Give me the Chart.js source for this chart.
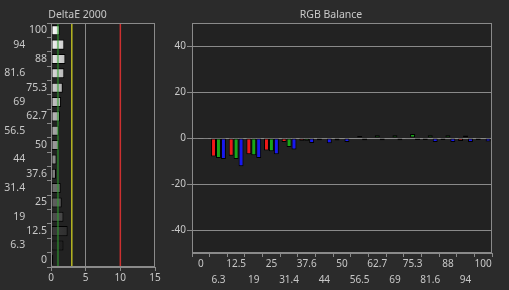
<!DOCTYPE html>
<html>
<head>
<meta charset="utf-8">
<script src="https://cdn.jsdelivr.net/npm/chart.js@4.4.0/dist/chart.umd.min.js"></script>
<style>
  html, body { margin: 0; padding: 0; background: #2b2b2b; width: 509px; height: 290px; overflow: hidden; }
  #deltaBox { position: absolute; left: 0; top: 0; width: 170px; height: 290px; }
  #rgbBox { position: absolute; left: 170px; top: 0; width: 339px; height: 290px; }
</style>
</head>
<body>
<div id="deltaBox"><canvas id="deltaChart"></canvas></div>
<div id="rgbBox"><canvas id="rgbChart"></canvas></div>
<script>
// stimulus levels, 0 -> 100
const stimulusLabels = ['0', '6.3', '12.5', '19', '25', '31.4', '37.6', '44', '50', '56.5', '62.7', '69', '75.3', '81.6', '88', '94', '100'];

// DeltaE 2000 per level
const deltaE = [0.33, 1.8, 2.4, 1.8, 1.55, 1.4, 0.72, 0.8, 1.15, 1.15, 1.3, 1.45, 1.7, 1.92, 2.08, 1.92, 1.25];
const deltaTicks = [0, 5, 10, 15];
const deltaLimits = [1, 3, 10];

// RGB balance offsets per level
const redOffset = [-0.3, -8.0, -7.7, -7.0, -5.4, -1.7, -1.2, -1.0, -1.1, 0, 0, 0, -0.3, -0.8, -0.8, -1.3, -0.8];
const greenOffset = [0, -8.7, -9.1, -7.5, -5.7, -3.9, -1.2, -0.3, 0.4, 0.9, 1.2, 1.2, 1.8, 1.2, 1.2, 1.1, 0.3];
const blueOffset = [-0.3, -9.1, -12.3, -8.7, -7.0, -5.0, -2.2, -2.3, -1.7, -1.0, -1.0, -1.0, -0.8, -1.7, -1.7, -1.7, -1.5];
const rgbTicks = [-40, -20, 0, 20, 40];

const gridGray = '#8a8a8a';
const textGray = '#c8c8c8';
const plotBg = '#222222';

Chart.defaults.font.family = "'Noto Sans', sans-serif";
Chart.defaults.font.size = 10;
Chart.defaults.color = textGray;

// dark plot area + frame round it
const plotFrame = {
    id: 'plotFrame',
    beforeDraw(chart) {
        const a = chart.chartArea, ctx = chart.ctx;
        ctx.save();
        ctx.fillStyle = plotBg;
        ctx.fillRect(a.left, a.top, a.right - a.left, a.bottom - a.top);
        ctx.restore();
    },
    afterDraw(chart) {
        const a = chart.chartArea, ctx = chart.ctx;
        ctx.save();
        ctx.strokeStyle = gridGray;
        ctx.lineWidth = 1;
        ctx.strokeRect(Math.round(a.left) + 0.5, Math.round(a.top) + 0.5, Math.round(a.right - a.left) - 1, Math.round(a.bottom - a.top) - 1);
        ctx.restore();
    }
};

// green / yellow / red limit lines on the deltaE chart
const limitLines = {
    id: 'limitLines',
    afterDatasetsDraw(chart) {
        const a = chart.chartArea, ctx = chart.ctx, x = chart.scales.x;
        const styles = [['rgba(48,160,48,0.55)', 2], ['#b8b822', 1.5], ['#cc3030', 1.5]];
        ctx.save();
        deltaLimits.forEach((v, i) => {
            const px = x.getPixelForValue(v);
            ctx.strokeStyle = styles[i][0];
            ctx.lineWidth = styles[i][1];
            ctx.beginPath();
            ctx.moveTo(px, a.top);
            ctx.lineTo(px, a.bottom);
            ctx.stroke();
        });
        ctx.restore();
    }
};

function levelFill(context) {
    const chart = context.chart;
    const level = parseFloat(stimulusLabels[context.dataIndex]) / 100;
    const v = Math.round(255 * Math.pow(level, 0.7));
    const dark = Math.round(v * 0.8);
    if (!chart.chartArea) return `rgb(${v},${v},${v})`;
    const left = chart.chartArea.left;
    const g = chart.ctx.createLinearGradient(left, 0, left + 16, 0);
    g.addColorStop(0, `rgb(${v},${v},${v})`);
    g.addColorStop(1, `rgb(${dark},${dark},${dark})`);
    return g;
}

new Chart(document.getElementById('deltaChart'), {
    type: 'bar',
    data: {
        labels: stimulusLabels,
        datasets: [{
            data: deltaE,
            backgroundColor: levelFill,
            borderColor: '#000',
            borderWidth: 1,
            borderSkipped: false,
            barPercentage: 0.7,
            categoryPercentage: 1
        }]
    },
    options: {
        indexAxis: 'y',
        responsive: true,
        maintainAspectRatio: false,
        animation: false,
        devicePixelRatio: 1,
        layout: { padding: { right: 15 } },
        plugins: {
            legend: { display: false },
            tooltip: { enabled: false },
            title: { display: true, text: 'DeltaE 2000', color: textGray, font: { size: 10.5, weight: 'normal' }, padding: { top: 9, bottom: 1.5 } }
        },
        scales: {
            x: {
                min: 0, max: 15,
                afterBuildTicks: s => { s.ticks = deltaTicks.map(v => ({ value: v })); },
                grid: { color: c => (c.tick && c.tick.value === 5) ? gridGray : 'rgba(0,0,0,0)', tickColor: gridGray, tickLength: 4 },
                border: { color: gridGray },
                ticks: { padding: 1, maxRotation: 0, color: textGray },
                afterFit: s => { s.height = 23; }
            },
            y: {
                reverse: true,
                grid: { drawOnChartArea: false, tickColor: gridGray, tickLength: 4 },
                border: { color: gridGray },
                ticks: {
                    padding: 0, autoSkip: false, color: textGray, font: { size: 10.5 },
                    // every other level sits further left, as in the original
                    callback: function (val, i) {
                        const l = this.getLabelForValue(val);
                        return i % 2 === 0 ? l : l + '        ';
                    }
                },
                afterFit: s => { s.width = 51; }
            }
        }
    },
    plugins: [plotFrame, limitLines]
});

const barStyle = { borderColor: '#000', borderWidth: 1, borderSkipped: false, categoryPercentage: 0.84, barPercentage: 1 };

new Chart(document.getElementById('rgbChart'), {
    type: 'bar',
    data: {
        labels: stimulusLabels,
        datasets: [
            Object.assign({ label: 'R', data: redOffset, backgroundColor: '#f01818' }, barStyle),
            Object.assign({ label: 'G', data: greenOffset, backgroundColor: '#18a818' }, barStyle),
            Object.assign({ label: 'B', data: blueOffset, backgroundColor: '#1818f0' }, barStyle)
        ]
    },
    options: {
        responsive: true,
        maintainAspectRatio: false,
        animation: false,
        devicePixelRatio: 1,
        layout: { padding: { right: 17 } },
        plugins: {
            legend: { display: false },
            tooltip: { enabled: false },
            title: { display: true, text: 'RGB Balance', color: textGray, font: { size: 10.5, weight: 'normal' }, padding: { top: 9, bottom: 1.5 } }
        },
        scales: {
            x: {
                grid: { drawOnChartArea: false, tickColor: gridGray, tickLength: 4 },
                border: { color: gridGray },
                ticks: {
                    autoSkip: false, maxRotation: 0, padding: -1, color: textGray,
                    font: { size: 10, lineHeight: 1.6 },
                    callback: function (val, i) {
                        const l = this.getLabelForValue(val);
                        return i % 2 === 0 ? l : ['', l];
                    }
                },
                afterFit: s => { s.height = 37; }
            },
            y: {
                min: -50, max: 50,
                afterBuildTicks: s => { s.ticks = rgbTicks.map(v => ({ value: v })); },
                grid: { color: gridGray, tickColor: gridGray, tickLength: 5 },
                border: { color: gridGray },
                ticks: { padding: 1, color: textGray },
                afterFit: s => { s.width = 22; }
            }
        }
    },
    plugins: [plotFrame]
});
</script>
</body>
</html>
